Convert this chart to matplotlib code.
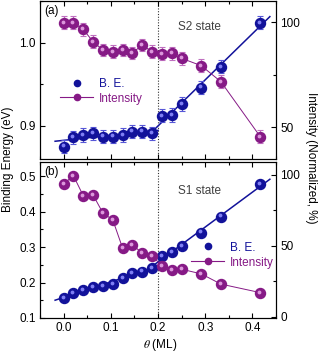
import numpy as np
import matplotlib
matplotlib.use('Agg')
import matplotlib.pyplot as plt
import matplotlib.transforms as mtransforms
from matplotlib.lines import Line2D
from matplotlib.ticker import MultipleLocator

plt.rcParams['font.family'] = ['Liberation Sans', 'DejaVu Sans']
plt.rcParams['font.size'] = 8.5
plt.rcParams['mathtext.fontset'] = 'stix'

# Coverage (ML) -- steps of 1/48
theta_k = [0, 1, 2, 3, 4, 5, 6, 7, 8, 9, 10, 11, 12, 14, 16, 20]
theta = [k / 48 for k in theta_k]

# Panel (a): S2 state
be_a = [0.875, 0.886, 0.889, 0.891, 0.887, 0.887, 0.889, 0.893, 0.893, 0.891,
        0.912, 0.913, 0.926, 0.946, 0.971, 1.024]
be_a_err = [0.008] * 16
int_a = [99.7, 99.7, 96.5, 90.7, 86.7, 85.9, 86.7, 85.4, 89.1, 85.9,
         85.0, 85.1, 82.8, 79.3, 71.7, 45.6]
int_a_err = [3.0] * 16

# Panel (b): S1 state
be_b = [0.156, 0.170, 0.180, 0.187, 0.191, 0.196, 0.212, 0.226, 0.231, 0.241,
        0.275, 0.287, 0.303, 0.341, 0.386, 0.477]
int_b = [93.6, 99.3, 85.2, 85.7, 73.0, 68.2, 48.3, 50.6, 44.7, 42.8,
         35.8, 33.0, 33.4, 30.1, 22.9, 16.9]

split = 10  # first point of the steeper branch

blue = '#12129a'
blue_hi = '#8c8cff'
blue_err = '#5858d8'
purple = '#861a86'
purple_hi = '#e6a6e6'
purple_err = '#c070c0'

fig = plt.figure(figsize=(3.2, 3.54), dpi=100)
ax_a = fig.add_axes([0.125, 0.5508, 0.7375, 0.4463])
ax_b = fig.add_axes([0.125, 0.1017, 0.7375, 0.4407])
tw_a = ax_a.twinx()
tw_b = ax_b.twinx()


def spheres(ax, x, y, color, hi, ms=7.2):
    ax.plot(x, y, 'o', ms=ms, color=color, mec=color, zorder=4)
    off = mtransforms.offset_copy(ax.transData, fig=fig, x=-1.1, y=1.1, units='dots')
    ax.plot(x, y, 'o', ms=ms * 0.38, color=hi, mec='none', alpha=0.9,
            transform=off, zorder=5)


def fit_lines(ax, x, y, color):
    x = np.array(x)
    y = np.array(y)
    p1 = np.polyfit(x[:split], y[:split], 1)
    p2 = np.polyfit(x[split:], y[split:], 1)
    xs1 = np.array([-0.018, 0.2])
    xs2 = np.array([0.19, 0.437])
    ax.plot(xs1, np.polyval(p1, xs1), '-', color=color, lw=1.1, zorder=2)
    ax.plot(xs2, np.polyval(p2, xs2), '-', color=color, lw=1.1, zorder=2)


# ---- panel (a)
fit_lines(ax_a, theta, be_a, blue)
ax_a.errorbar(theta, be_a, yerr=be_a_err, fmt='none', ecolor=blue_err,
              elinewidth=0.8, capsize=2.2, capthick=0.8, zorder=3)
spheres(ax_a, theta, be_a, blue, blue_hi)
tw_a.plot(theta, int_a, '-', color=purple, lw=0.7, zorder=2)
tw_a.errorbar(theta, int_a, yerr=int_a_err, fmt='none', ecolor=purple_err,
              elinewidth=0.8, capsize=2.2, capthick=0.8, zorder=3)
spheres(tw_a, theta, int_a, purple, purple_hi)

# ---- panel (b)
fit_lines(ax_b, theta, be_b, blue)
spheres(ax_b, theta, be_b, blue, blue_hi)
tw_b.plot(theta, int_b, '-', color=purple, lw=0.7, zorder=2)
spheres(tw_b, theta, int_b, purple, purple_hi)

ax_a.set_ylim(0.86, 1.05)
tw_a.set_ylim(35, 110)
ax_b.set_ylim(0.1, 0.54)
tw_b.set_ylim(-1, 109)

for ax, tw in [(ax_a, tw_a), (ax_b, tw_b)]:
    ax.set_xlim(-0.05, 0.45)
    ax.axvline(0.2, color='#333333', ls=(0, (1, 1.5)), lw=0.8, zorder=1)
    ax.xaxis.set_major_locator(MultipleLocator(0.1))
    ax.xaxis.set_minor_locator(MultipleLocator(0.05))
    ax.yaxis.set_major_locator(MultipleLocator(0.1))
    ax.yaxis.set_minor_locator(MultipleLocator(0.05))
    tw.yaxis.set_major_locator(MultipleLocator(50))
    tw.yaxis.set_minor_locator(MultipleLocator(25))
    ax.tick_params(which='both', direction='in', top=True, right=False, width=0.8)
    ax.tick_params(which='major', length=3.5, pad=3)
    ax.tick_params(which='minor', length=2)
    tw.tick_params(which='both', direction='in', right=True, left=False, width=0.8)
    tw.tick_params(which='major', length=3.5, pad=3)
    tw.tick_params(which='minor', length=2)
    for a in (ax, tw):
        for s in a.spines.values():
            s.set_linewidth(0.8)

ax_a.set_xticklabels([])
ax_a.yaxis.set_major_formatter(plt.FuncFormatter(lambda v, p: f'{v:.1f}'))
ax_b.yaxis.set_major_formatter(plt.FuncFormatter(lambda v, p: f'{v:.1f}'))
ax_b.xaxis.set_major_formatter(plt.FuncFormatter(lambda v, p: f'{v:.1f}'))

ax_a.text(0.02, 0.975, '(a)', transform=ax_a.transAxes, ha='left', va='top')
ax_b.text(0.02, 0.975, '(b)', transform=ax_b.transAxes, ha='left', va='top')
ax_a.text(0.674, 0.837, 'S2 state', transform=ax_a.transAxes, ha='center',
          va='center', color='#404040')
ax_b.text(0.674, 0.816, 'S1 state', transform=ax_b.transAxes, ha='center',
          va='center', color='#404040')

fig.text(0.025, 1 - 159 / 354, 'Binding Energy (eV)', rotation=90,
         ha='center', va='center')
fig.text(0.972, 1 - 158 / 354, 'Intensity (Normalized, %)', rotation=270,
         ha='center', va='center')
fig.text(0.5, 1 - 345 / 354, r'$\theta$ (ML)', ha='center', va='center')

handles = [Line2D([], [], marker='o', ls='none', color=blue, ms=4.5),
           Line2D([], [], marker='o', ls='-', lw=0.8, color=purple, ms=4.5)]
labels = ['B. E.', 'Intensity']
for tw, anchor in [(tw_a, (0.085, 0.515)), (tw_b, (0.64, 0.49))]:
    leg = tw.legend(handles, labels, loc='upper left', bbox_to_anchor=anchor,
                    frameon=False, handlelength=2.8, handletextpad=0.5,
                    labelspacing=0.25, borderaxespad=0, borderpad=0)
    leg.get_texts()[0].set_color(blue)
    leg.get_texts()[1].set_color(purple)
    leg.set_zorder(10)

fig.savefig('out.png', dpi=100)
